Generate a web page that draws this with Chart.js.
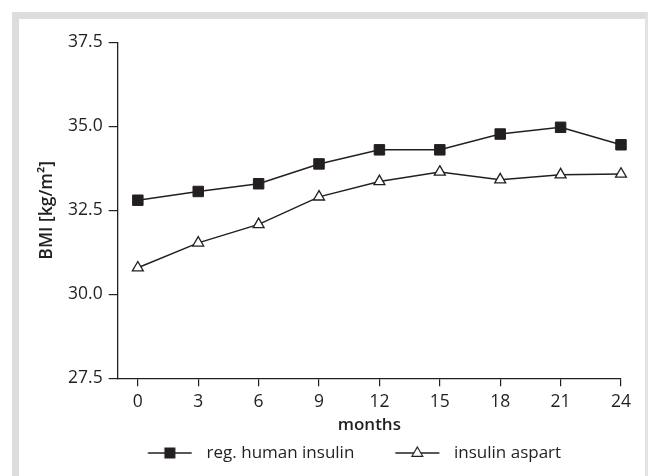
<!DOCTYPE html>
<html>
<head>
<meta charset="utf-8">
<script src="https://cdn.jsdelivr.net/npm/chart.js@4.4.1/dist/chart.umd.min.js"></script>
<style>
html, body { margin:0; padding:0; background:#fff; overflow:hidden; }
#frame { position:absolute; left:12px; top:12px; width:626px; height:470px;
  border-top:7px solid #dcdddf; border-left:7px solid #dcdddf; border-right:3px solid #e2e3e5; }
#wrap { position:absolute; left:0; top:0; width:648px; height:476px; }
</style>
</head>
<body>
<div id="frame"></div>
<div id="wrap"><canvas id="myChart" width="648" height="476"></canvas></div>
<script>
const months = [0, 3, 6, 9, 12, 15, 18, 21, 24];
const regHuman = [32.80, 33.06, 33.29, 33.88, 34.30, 34.30, 34.77, 34.97, 34.45];
const aspart = [30.79, 31.53, 32.08, 32.90, 33.36, 33.64, 33.41, 33.56, 33.58];
const yTicks = [27.5, 30.0, 32.5, 35.0, 37.5];
const seriesNames = ['reg. human insulin', 'insulin aspart'];

const ink = '#231f20';
const fontName = "'Open Sans', sans-serif";

// little line + marker picture for the legend
function legendImage(style){
    const c = document.createElement('canvas');
    c.width = 68;
    c.height = 16;
    const g = c.getContext('2d');
    g.strokeStyle = ink;
    g.lineWidth = 1.5;
    g.beginPath();
    g.moveTo(23.4, 8);
    g.lineTo(67.4, 8);
    g.stroke();
    const cx = 45.4;
    g.lineWidth = 1.2;
    if (style === 'rect'){
        g.fillStyle = ink;
        g.fillRect(cx - 5.5, 8 - 5.5, 11, 11);
    } else {
        g.fillStyle = '#fff';
        g.beginPath();
        g.moveTo(cx, 8 - 6);
        g.lineTo(cx + 5.4, 8 + 3.3);
        g.lineTo(cx - 5.4, 8 + 3.3);
        g.closePath();
        g.fill();
        g.stroke();
    }
    return c;
}

function createChart(){
    const ctx = document.getElementById('myChart').getContext('2d');
    const styles = ['rect', 'triangle'];
    const images = styles.map(legendImage);

    new Chart(ctx, {
        type: 'line',
        data: {
            datasets: [{
                label: seriesNames[0],
                data: months.map((m, i) => ({x: m, y: regHuman[i]})),
                borderColor: ink,
                borderWidth: 1.5,
                pointStyle: 'rect',
                pointRadius: 7.4,
                pointBackgroundColor: ink,
                pointBorderColor: ink,
                pointBorderWidth: 1,
                clip: false,
                tension: 0
            }, {
                label: seriesNames[1],
                data: months.map((m, i) => ({x: m, y: aspart[i]})),
                borderColor: ink,
                borderWidth: 1.5,
                pointStyle: 'triangle',
                pointRadius: 6.3,
                pointBackgroundColor: '#fff',
                pointBorderColor: ink,
                pointBorderWidth: 1.3,
                clip: false,
                tension: 0
            }]
        },
        options: {
            responsive: false,
            animation: false,
            layout: {
                padding: {left: 59, right: 27, top: 42.3, bottom: 4.5}
            },
            plugins: {
                tooltip: {enabled: false},
                legend: {
                    position: 'bottom',
                    labels: {
                        usePointStyle: true,
                        pointStyleWidth: 79.2,
                        padding: 12,
                        color: ink,
                        font: {family: fontName, size: 17},
                        generateLabels: (chart) => chart.data.datasets.map((ds, i) => ({
                            text: ds.label,
                            pointStyle: images[i],
                            fillStyle: 'transparent',
                            strokeStyle: 'transparent',
                            lineWidth: 0,
                            fontColor: ink,
                            datasetIndex: i
                        }))
                    }
                }
            },
            scales: {
                x: {
                    type: 'linear',
                    min: -1,
                    max: 24,
                    afterBuildTicks: (axis) => { axis.ticks = months.map(v => ({value: v})); },
                    afterFit: (scale) => { scale.height = 54.2; },
                    grid: {drawOnChartArea: false, drawTicks: true, tickLength: 8, color: ink, lineWidth: 1.2},
                    border: {display: true, color: ink, width: 1.3},
                    ticks: {color: ink, padding: 5, font: {family: fontName, size: 17.5}},
                    title: {
                        display: true,
                        text: 'months',
                        color: ink,
                        font: {family: fontName, size: 17, weight: '600', lineHeight: 1.2},
                        padding: {top: 0, bottom: -2.5}
                    }
                },
                y: {
                    min: 27.5,
                    max: 37.5,
                    afterBuildTicks: (axis) => { axis.ticks = yTicks.map(v => ({value: v})); },
                    afterFit: (scale) => { scale.width = 117.7 - 59; },
                    grid: {drawOnChartArea: false, drawTicks: true, tickLength: 9, color: ink, lineWidth: 1.2},
                    border: {display: true, color: ink, width: 1.3},
                    ticks: {
                        color: ink,
                        padding: 6,
                        font: {family: fontName, size: 17.5},
                        callback: (v) => Number(v).toFixed(1)
                    },
                    title: {
                        display: true,
                        text: 'BMI [kg/m²]',
                        color: ink,
                        font: {family: fontName, size: 17.5, weight: '600', lineHeight: 1.2},
                        padding: {top: -22.2, bottom: 0}
                    }
                }
            }
        }
    });
}

createChart()
</script>
</body>
</html>
